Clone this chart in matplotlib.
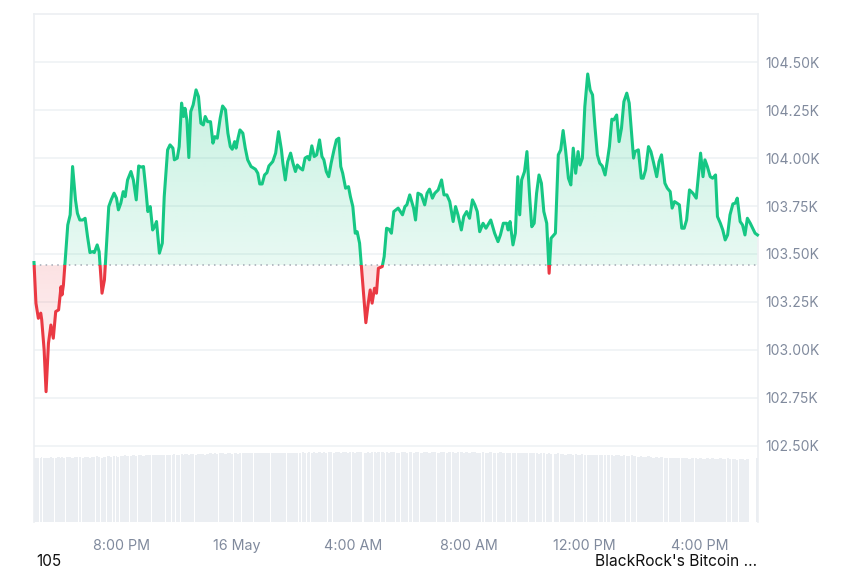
import matplotlib.pyplot as plt
import numpy as np
from matplotlib.colors import to_rgb
from matplotlib.patches import Rectangle
from matplotlib.path import Path

# minutes relative to 16 May 00:00
minutes = [
    -421, -417, -412, -407, -405, -400, -396, -391, -386, -381,
    -376, -370, -365, -363, -360, -351, -346, -341, -335, -331,
    -326, -320, -315, -310, -305, -300, -296, -290, -286, -280,
    -275, -266, -261, -255, -250, -246, -241, -236, -232, -227,
    -220, -215, -209, -204, -199, -194, -189, -185, -180, -175,
    -171, -167, -161, -155, -151, -144, -139, -133, -130, -124,
    -120, -115, -111, -108, -104, -100, -96, -91, -85, -80,
    -75, -70, -66, -61, -55, -50, -46, -41, -35, -30,
    -24, -19, -14, -10, -5, -2, 2, 6, 12, 17,
    22, 29, 38, 43, 47, 52, 57, 62, 66, 74,
    80, 86, 92, 95, 100, 105, 111, 116, 121, 125,
    131, 136, 141, 146, 150, 155, 160, 165, 171, 176,
    180, 185, 190, 195, 201, 206, 211, 215, 219, 225,
    231, 235, 240, 245, 249, 254, 267, 272, 276, 280,
    285, 289, 293, 301, 305, 310, 315, 320, 325, 334,
    343, 348, 352, 358, 361, 366, 370, 375, 382, 389,
    394, 399, 405, 410, 417, 424, 429, 435, 441, 448,
    453, 458, 465, 470, 476, 482, 488, 493, 498, 503,
    510, 516, 520, 526, 534, 541, 546, 552, 559, 562,
    566, 572, 577, 582, 586, 590, 596, 601, 607, 611,
    616, 621, 626, 631, 636, 642, 647, 651, 660, 666,
    671, 676, 681, 687, 692, 697, 702, 707, 711, 716,
    721, 727, 732, 737, 742, 747, 752, 757, 763, 768,
    772, 777, 781, 787, 792, 797, 802, 808, 813, 818,
    822, 825, 832, 838, 842, 847, 853, 858, 863, 870,
    875, 880, 887, 892, 898, 902, 907, 912, 917, 922,
    927, 932, 938, 945, 952, 956, 961, 966, 970, 975,
    981, 986, 992, 996, 1002, 1007, 1012, 1017, 1022, 1028,
    1033, 1037, 1043, 1048, 1053, 1058, 1064, 1069, 1074, 1079,
]

prices = [
    103455, 103243, 103164, 103191, 103156, 102999, 102781, 103034, 103129, 103060,
    103199, 103208, 103329, 103286, 103338, 103651, 103704, 103956, 103782, 103712,
    103677, 103677, 103686, 103590, 103507, 103512, 103507, 103547, 103512, 103295,
    103364, 103747, 103782, 103817, 103791, 103730, 103765, 103825, 103799, 103886,
    103930, 103886, 103782, 103959, 103953, 103956, 103834, 103721, 103747, 103625,
    103642, 103669, 103504, 103556, 103799, 104043, 104069, 104052, 103991, 104000,
    104060, 104287, 104217, 104260, 104199, 104003, 104243, 104278, 104356, 104321,
    104182, 104173, 104217, 104190, 104190, 104078, 104112, 104104, 104208, 104272,
    104252, 104130, 104060, 104046, 104086, 104052, 104104, 104147, 104130, 104052,
    103991, 103956, 103942, 103921, 103865, 103865, 103912, 103924, 103959, 103982,
    104026, 104138, 104043, 103973, 103886, 103982, 104026, 103973, 103930, 103964,
    103947, 103938, 104000, 104008, 103991, 104064, 104008, 104017, 104095, 104008,
    103991, 103930, 103903, 103973, 104043, 104095, 104104, 103956, 103921, 103843,
    103851, 103799, 103747, 103608, 103616, 103556, 103141, 103243, 103312, 103243,
    103321, 103295, 103425, 103434, 103486, 103634, 103629, 103608, 103721, 103739,
    103704, 103747, 103756, 103808, 103782, 103739, 103677, 103817, 103808, 103756,
    103817, 103838, 103791, 103817, 103834, 103886, 103808, 103808, 103773, 103669,
    103747, 103704, 103625, 103695, 103721, 103686, 103782, 103756, 103721, 103616,
    103660, 103634, 103651, 103677, 103608, 103564, 103599, 103660, 103660, 103625,
    103669, 103547, 103608, 103903, 103704, 103886, 103930, 104034, 103782, 103642,
    103660, 103817, 103912, 103869, 103721, 103660, 103399, 103582, 103608, 104017,
    104043, 104144, 104043, 103895, 103860, 104052, 103921, 104034, 103964, 104000,
    104269, 104439, 104356, 104330, 104164, 104017, 103973, 103959, 103912, 103991,
    104060, 104203, 104199, 104225, 104086, 104156, 104295, 104339, 104287, 104130,
    104000, 104034, 104043, 103895, 103895, 103938, 104060, 104034, 103982, 103903,
    103982, 104017, 103869, 103843, 103825, 103739, 103773, 103765, 103756, 103634,
    103634, 103677, 103834, 103817, 103791, 103895, 104026, 103903, 103991, 103956,
    103903, 103895, 103912, 103695, 103660, 103625, 103573, 103599, 103704, 103761,
    103765, 103791, 103669, 103651, 103599, 103686, 103660, 103634, 103608, 103599,
]

volumes = [
    92, 92, 91, 92, 93, 92, 92, 91, 93, 92,
    92, 93, 92, 93, 92, 93, 93, 92, 93, 93,
    93, 92, 93, 93, 92, 93, 93, 94, 93, 92,
    93, 94, 93, 94, 94, 93, 94, 94, 95, 94,
    94, 95, 94, 95, 95, 94, 95, 96, 95, 95,
    95, 96, 95, 96, 96, 95, 96, 96, 97, 96,
    96, 97, 96, 97, 97, 96, 97, 97, 96, 97,
    97, 97, 96, 97, 98, 97, 98, 97, 98, 98,
    97, 98, 98, 97, 98, 98, 97, 98, 98, 99,
    98, 98, 99, 98, 99, 98, 99, 99, 98, 99,
    99, 98, 99, 99, 98, 99, 99, 98, 99, 99,
    99, 100, 99, 99, 100, 99, 100, 99, 100, 99,
    100, 99, 100, 100, 99, 100, 100, 99, 100, 100,
    99, 100, 100, 99, 100, 100, 99, 100, 99, 100,
    100, 99, 100, 100, 99, 100, 99, 100, 100, 99,
    100, 100, 99, 100, 100, 99, 100, 100, 99, 100,
    100, 99, 100, 100, 99, 100, 100, 99, 100, 100,
    99, 100, 100, 99, 100, 99, 100, 100, 99, 99,
    100, 99, 99, 100, 99, 99, 100, 99, 99, 98,
    99, 99, 98, 99, 98, 99, 98, 98, 99, 98,
    98, 98, 97, 98, 98, 97, 98, 97, 97, 98,
    97, 97, 96, 97, 97, 96, 97, 96, 96, 97,
    96, 96, 95, 96, 96, 95, 96, 95, 95, 96,
    95, 95, 94, 95, 95, 94, 95, 94, 94, 95,
    94, 94, 93, 94, 93, 93, 94, 93, 92, 93,
    92, 93, 92, 92, 92, 91, 92, 91, 91, 92,
    91, 91, 90, 91, 91, 90, 91, 90, 90, 91,
    90, 91, 90, 90, 91, 90, 90, 91, 90, 90,
    90, 89, 90, 90, 89, 90, 0, 0, 0, 91,
]

base_price = 103441
price_ticks = [102500, 102750, 103000, 103250, 103500, 103750, 104000, 104250, 104500]
time_ticks = [-240, 0, 240, 480, 720, 960]
time_labels = ['8:00 PM', '16 May', '4:00 AM', '8:00 AM', '12:00 PM', '4:00 PM']

GREEN = '#16c784'
RED = '#ea3943'
GRID = '#eff2f5'
FRAME = '#eceff2'
TEXT = '#808a9d'

plt.rcParams['font.family'] = ['Inter', 'DejaVu Sans']

hours = np.array(minutes) / 60
p = np.array(prices, dtype=float)
x0, x1 = hours[0], hours[-1]


def gradient_area(ax, coll, color, y_lo, y_hi, a_lo, a_hi):
    path = Path.make_compound_path(*coll.get_paths())
    grad = np.zeros((256, 1, 4))
    grad[..., :3] = to_rgb(color)
    grad[..., 3] = np.linspace(a_lo, a_hi, 256)[:, None]
    img = ax.imshow(grad, extent=[x0, x1, y_lo, y_hi], origin='lower',
                    aspect='auto', zorder=1, interpolation='bilinear')
    img.set_clip_path(path, ax.transData)


fig = plt.figure(figsize=(8.5, 5.67), dpi=100)
ax = fig.add_axes([34 / 850, 1 - 522 / 567, (757.5 - 34) / 850, (522 - 14) / 567])

# volume bars at the foot of the chart (twin made first, it resets tick sides)
ax2 = ax.twinx()
bar_w = np.gradient(hours) * 0.9
ax2.bar(hours, volumes, width=bar_w, color='#ebeef2', linewidth=0)
ax2.set_ylim(0, 725)
ax2.axis('off')

up = ax.fill_between(hours, p, base_price, where=p >= base_price, interpolate=True,
                     facecolor='none', edgecolor='none')
down = ax.fill_between(hours, p, base_price, where=p <= base_price, interpolate=True,
                       facecolor='none', edgecolor='none')
gradient_area(ax, up, GREEN, base_price, p.max(), 0.10, 0.25)
gradient_area(ax, down, RED, p.min(), base_price, 0.04, 0.15)

ax.axhline(base_price, color='#a3a9b4', lw=1.1, ls=(0, (1, 2.8)), zorder=2)

green_line, = ax.plot(hours, p, color=GREEN, lw=2.2, zorder=3, solid_joinstyle='round')
red_line, = ax.plot(hours, p, color=RED, lw=2.2, zorder=3, solid_joinstyle='round')
green_line.set_clip_path(Rectangle((x0 - 1, base_price), x1 - x0 + 2, 1e5, transform=ax.transData))
red_line.set_clip_path(Rectangle((x0 - 1, base_price - 1e5), x1 - x0 + 2, 1e5, transform=ax.transData))

ax.set_xlim(x0, x1)
ax.set_ylim(102101, 104752)

ax.set_yticks(price_ticks, [f'{v / 1000:.2f}K' for v in price_ticks])
ax.yaxis.tick_right()
ax.set_xticks(np.array(time_ticks) / 60, time_labels)
ax.tick_params(axis='y', length=0, pad=6, labelsize=10, labelcolor=TEXT)
ax.tick_params(axis='x', length=0, pad=12, labelsize=10.3, labelcolor=TEXT)
ax.grid(axis='y', color=GRID, lw=1.2)
ax.set_axisbelow(True)
for side in ['left', 'top', 'right']:
    ax.spines[side].set_color(FRAME)
    ax.spines[side].set_linewidth(1.2)
ax.spines['bottom'].set_visible(False)

fig.text(36 / 850, 1 - 561 / 567, '105', ha='left', va='center', fontsize=11, color='#111111')
fig.text(757 / 850, 1 - 561 / 567, "BlackRock's Bitcoin ...", ha='right', va='center',
         fontsize=11.2, color='#111111')

fig.savefig('out.png', dpi=100)
